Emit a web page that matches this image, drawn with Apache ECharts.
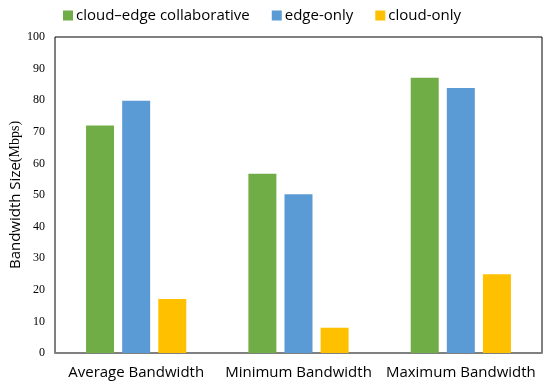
<!DOCTYPE html>
<html><head><meta charset="utf-8">
<script src="https://cdn.jsdelivr.net/npm/echarts@6/dist/echarts.min.js"></script>
<style>html,body{margin:0;padding:0;background:#fff}#c{width:550px;height:387px}</style>
</head><body><div id="c"></div>
<script>
const categories = ['Average Bandwidth', 'Minimum Bandwidth', 'Maximum Bandwidth'];
const seriesNames = ['cloud\u2013edge collaborative', 'edge-only', 'cloud-only'];
const collaborative = [72, 56.7, 87.1];
const edgeOnly = [79.8, 50.2, 83.9];
const cloudOnly = [17.1, 8.0, 24.9];
const colors = ['#70ad47', '#5b9bd5', '#ffc000'];

const chart = echarts.init(document.getElementById('c'));
const mk = (name, data, color) => ({
  name, type: 'bar', data, barWidth: 28, barGap: '29%',
  itemStyle: { color }
});
chart.setOption({
  animation: false,
  legend: {
    top: 3, left: 58, itemWidth: 10, itemHeight: 10, itemGap: 22,
    icon: 'rect',
    textStyle: { fontFamily: 'Open Sans', fontSize: 15, color: '#000', padding: [0,0,0,-2] },
    data: seriesNames
  },
  grid: { left: 55, right: 8, top: 37, bottom: 34, show: true, borderColor: '#000', borderWidth: 1, backgroundColor: 'transparent', outerBoundsMode: 'none', containLabel: false },
  xAxis: {
    type: 'category', data: categories,
    axisLine: { lineStyle: { color: '#808080', width: 2 } },
    axisTick: { show: false },
    axisLabel: { fontFamily: 'Open Sans', fontSize: 15, color: '#000', margin: 12, interval: 0 }
  },
  yAxis: {
    type: 'value', min: 0, max: 100, interval: 10,
    splitLine: { show: false },
    axisLine: { show: false }, axisTick: { show: false },
    axisLabel: { fontFamily: 'Liberation Serif', fontSize: 12, color: '#000', margin: 10 },
    name: '{a|Bandwidth Size}{b|(Mbps)}',
    nameLocation: 'middle', nameGap: 32, nameMoveOverlap: false,
    nameTextStyle: {
      rich: {
        a: { fontFamily: 'Open Sans', fontSize: 15, color: '#000' },
        b: { fontFamily: 'Liberation Serif', fontSize: 14, color: '#000' }
      }
    }
  },
  series: [
    mk(seriesNames[0], collaborative, colors[0]),
    mk(seriesNames[1], edgeOnly, colors[1]),
    mk(seriesNames[2], cloudOnly, colors[2])
  ]
});
</script></body></html>
